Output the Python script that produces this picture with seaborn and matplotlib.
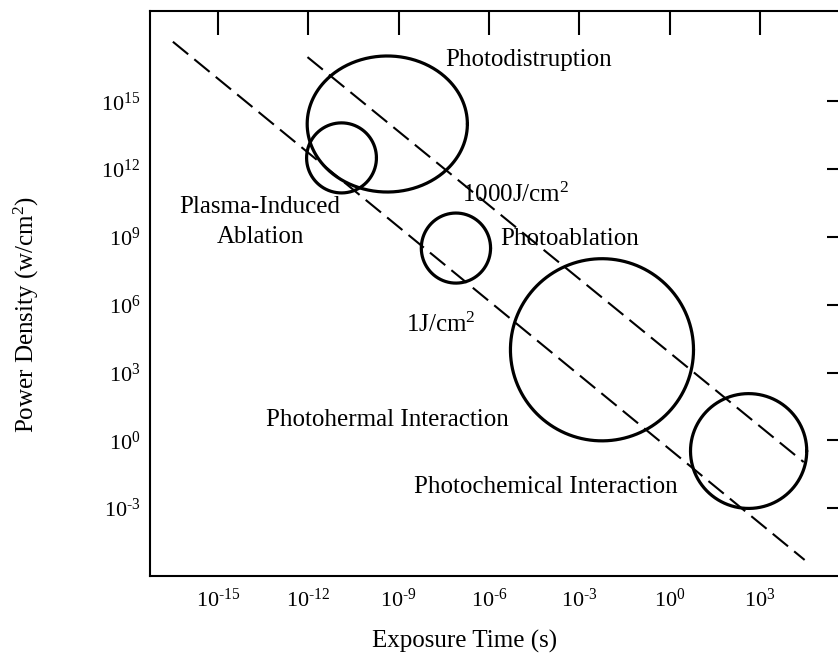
import numpy as np
import matplotlib
matplotlib.use("Agg")
import matplotlib.pyplot as plt
import seaborn as sns
from matplotlib.ticker import FixedLocator, NullLocator, FuncFormatter

# ---------------- data ----------------
# interaction regions: centre (log10 of exposure time / power density) and half extents (decades)
region_names = ["Photodistruption", "Plasma-Induced Ablation", "Photoablation",
                "Photothermal Interaction", "Photochemical Interaction"]
center_log_t = [-9.38, -10.90, -7.10, -2.25, 2.62]
center_log_p = [14.0, 12.50, 8.51, 4.01, -0.47]
half_width_log_t = [2.66, 1.16, 1.15, 3.04, 1.93]
half_height_log_p = [3.01, 1.55, 1.55, 4.03, 2.54]

# constant-fluence guide lines (end points, log10 values)
fluence_1J_log_t = [-16.50, 4.48]
fluence_1J_log_p = [17.64, -5.29]
fluence_1000J_log_t = [-12.03, 4.45]
fluence_1000J_log_p = [16.96, -0.96]

# annotations: text, log10 t, log10 p, vertical alignment
label_texts = ["Photodistruption", "Plasma-Induced\nAblation", "1000J/cm$^2$", "Photoablation",
               "1J/cm$^2$", "Photohermal Interaction", "Photochemical Interaction"]
label_log_t = [-4.69, -13.60, -5.12, -3.33, -7.61, -9.39, -4.13]
label_log_p = [16.83, 9.68, 10.545, 8.91, 4.80, 0.90, -2.06]
label_va = ["center", "center", "baseline", "center", "baseline", "center", "center"]

x_tick_exps = [-15, -12, -9, -6, -3, 0, 3]
y_tick_exps = [-3, 0, 3, 6, 9, 12, 15]
x_limits_exp = (-17.26, 6.02)
y_limits_exp = (-6.0, 19.0)

# ---------------- style ----------------
sns.set_style("white")
plt.rcParams["font.family"] = ["Liberation Serif", "DejaVu Serif"]
plt.rcParams["mathtext.fontset"] = "custom"
plt.rcParams["mathtext.rm"] = "Liberation Serif"
plt.rcParams["mathtext.it"] = "Liberation Serif:italic"
plt.rcParams["mathtext.bf"] = "Liberation Serif:bold"

fig = plt.figure(figsize=(8.38, 6.59), dpi=100)
ax = fig.add_axes([150 / 838, (659 - 576) / 659, 701 / 838, 565 / 659])
ax.set_xscale("log")
ax.set_yscale("log")

# dashed fluence lines
for lt, lp in [(fluence_1J_log_t, fluence_1J_log_p), (fluence_1000J_log_t, fluence_1000J_log_p)]:
    sns.lineplot(x=10 ** np.array(lt), y=10 ** np.array(lp), ax=ax, color="black",
                 linewidth=1.5, linestyle=(0, (9.5, 3.8)), sort=False, estimator=None)

# ellipses (circular in log-log display)
theta = np.linspace(0, 2 * np.pi, 400)
for cx, cy, rx, ry in zip(center_log_t, center_log_p, half_width_log_t, half_height_log_p):
    xs = 10 ** (cx + rx * np.cos(theta))
    ys = 10 ** (cy + ry * np.sin(theta))
    sns.lineplot(x=xs, y=ys, ax=ax, color="black", linewidth=2.3, sort=False, estimator=None)

for txt, lt, lp, va in zip(label_texts, label_log_t, label_log_p, label_va):
    ax.text(10 ** lt, 10 ** lp, txt, ha="center", va=va, fontsize=18,
            linespacing=1.48, color="black")

ax.set_xlim(10 ** x_limits_exp[0], 10 ** x_limits_exp[1])
ax.set_ylim(10 ** y_limits_exp[0], 10 ** y_limits_exp[1])


def pow_label(v, pos):
    e = int(round(np.log10(v)))
    if e < 0:
        return r"$\mathdefault{10^{\text{-}%d}}$" % (-e)
    return r"$\mathdefault{10^{%d}}$" % e


ax.xaxis.set_major_locator(FixedLocator([10.0 ** e for e in x_tick_exps]))
ax.yaxis.set_major_locator(FixedLocator([10.0 ** e for e in y_tick_exps]))
ax.xaxis.set_minor_locator(NullLocator())
ax.yaxis.set_minor_locator(NullLocator())
ax.xaxis.set_major_formatter(FuncFormatter(pow_label))
ax.yaxis.set_major_formatter(FuncFormatter(pow_label))

ax.tick_params(axis="both", which="major", direction="in", length=17, width=1.5,
               top=True, right=True, labelsize=16, colors="black")
ax.tick_params(axis="x", pad=9)
ax.tick_params(axis="y", pad=7)

for sp in ax.spines.values():
    sp.set_visible(True)
    sp.set_color("black")
    sp.set_linewidth(1.5)

ax.set_xlabel("Exposure Time (s)", fontsize=18, color="black")
ax.set_ylabel("Power Density (w/cm$^2$)", fontsize=18, color="black")
ax.xaxis.label.set_va("center")
ax.yaxis.label.set_va("center")
ax.xaxis.set_label_coords((465 - 150) / 701, -(641 - 576) / 565)
ax.yaxis.set_label_coords((26 - 150) / 701, 1 - (315 - 11) / 565)

ax.grid(False)
fig.savefig("out.png", dpi=100)
